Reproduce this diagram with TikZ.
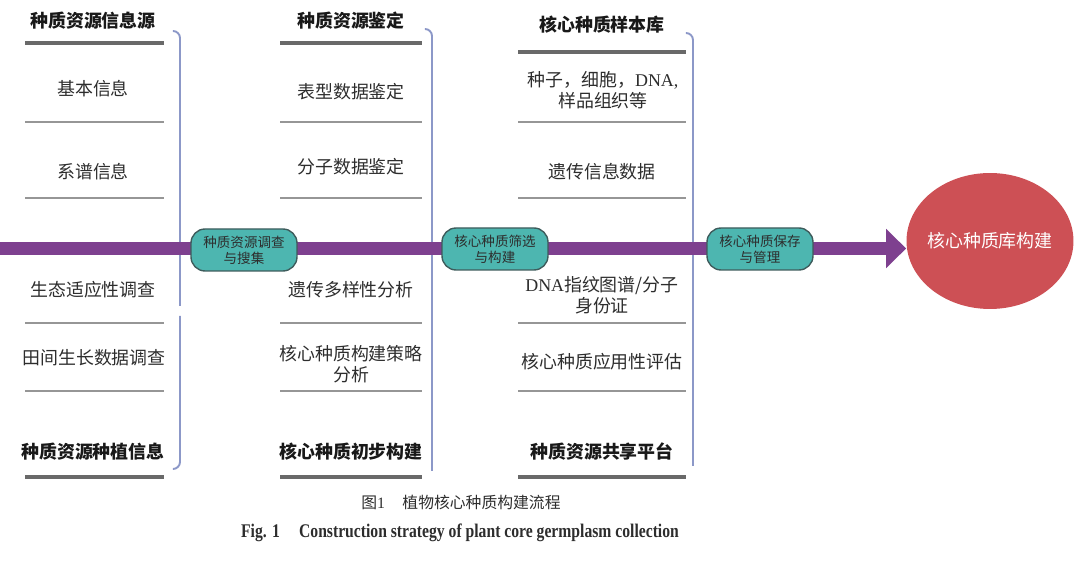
\documentclass[tikz,border=0pt]{standalone}
\usepackage{fontspec}
\setmainfont{Liberation Serif}
\newfontfamily\cjk{Noto Sans CJK SC}
\newfontfamily\capfont[FakeStretch=0.81]{Liberation Serif}
\usepackage{tikz}
\usetikzlibrary{positioning,arrows.meta,shapes.geometric,backgrounds}

\definecolor{spinepurple}{RGB}{126,64,143}
\definecolor{stageteal}{RGB}{77,182,176}
\definecolor{stageedge}{RGB}{62,92,92}
\definecolor{corered}{RGB}{205,80,85}
\definecolor{braceblue}{RGB}{140,152,200}
\definecolor{sepgray}{RGB}{150,150,150}
\definecolor{sepdark}{RGB}{105,105,105}
\definecolor{txtgray}{RGB}{45,45,45}

\begin{document}
\begin{tikzpicture}[
        x=0.02cm, y=-0.02cm,
        item/.style={
            align=center,
            inner sep=0pt,
            text=txtgray,
            font=\cjk\fontsize{10.2}{12.2}\selectfont
        },
        head/.style={
            item,
            text=black!90,
            font=\cjk\bfseries\fontsize{10.2}{12.2}\selectfont
        },
        stage/.style={
            rectangle,
            rounded corners=8pt,
            draw=stageedge,
            line width=0.8pt,
            fill=stageteal,
            align=center,
            inner sep=0pt,
            minimum width=2.12cm,
            minimum height=0.84cm,
            text=txtgray,
            font=\cjk\fontsize{7.7}{9}\selectfont
        },
        goal/.style={
            ellipse,
            fill=corered,
            inner xsep=-2.5pt,
            inner ysep=0pt,
            minimum width=3.34cm,
            minimum height=2.72cm,
            text=white,
            font=\cjk\fontsize{10.2}{12}\selectfont
        },
        sep/.style={draw=sepgray, line width=1.1pt},
        sepbold/.style={draw=sepdark, line width=2pt},
        brace/.style={draw=braceblue, line width=1.1pt, rounded corners=4pt},
        spine/.style={
            draw=spinepurple,
            line width=0.26cm,
            -{Triangle[length=0.4cm,width=0.76cm]}
        }
    ]
    \useasboundingbox (0,0) rectangle (1080,563);

    % Column 1
    \node[head] (h1) at (93,21) {种质资源信息源};
    \node[item] (a1) at (93,89) {基本信息};
    \node[item] (a2) at (93,172) {系谱信息};
    \node[item] (a3) at (93,290) {生态适应性调查};
    \node[item] (a4) at (94,358) {田间生长数据调查};
    \node[head] (f1) at (93,452) {种质资源种植信息};

    % Column 2
    \node[head] (h2) at (351,21) {种质资源鉴定};
    \node[item] (b1) at (351,92) {表型数据鉴定};
    \node[item] (b2) at (351,167) {分子数据鉴定};
    \node[item] (b3) at (351,290) {遗传多样性分析};
    \node[item] (b4) at (351,364) {核心种质构建策略\\分析};
    \node[head] (f2) at (351,452) {核心种质初步构建};

    % Column 3
    \node[head] (h3) at (602,25) {核心种质样本库};
    \node[item] (c1) at (603,90) {种子，细胞，{\rmfamily DNA,}\\样品组织等};
    \node[item] (c2) at (602,172) {遗传信息数据};
    \node[item] (c3) at (602,295) {{\rmfamily DNA}指纹图谱/分子\\身份证};
    \node[item] (c4) at (602,362) {核心种质应用性评估};
    \node[head] (f3) at (602,452) {种质资源共享平台};

    % separators
    \foreach \xa/\xb/\ytop in {25/164/43, 280/422/43, 518/686/52} {
        \draw[sepbold] (\xa,\ytop) -- (\xb,\ytop);
        \foreach \yy in {122,198,323,391}
            \draw[sep] (\xa,\yy) -- (\xb,\yy);
        \draw[sepbold] (\xa,477) -- (\xb,477);
    }

    % Stages and goal
    \node[stage] (s1) at (244,250) {种质资源调查\\与搜集};
    \node[stage] (s2) at (495,249) {核心种质筛选\\与构建};
    \node[stage] (s3) at (760,249) {核心种质保存\\与管理};
    \node[goal] (core) at (990,241) {核心种质库构建};

    \coordinate (start) at (0,248.5);

    \begin{scope}[on background layer]
        \draw[brace] (173,31) -| (180,306);
        \draw[brace] (180,316) |- (173,469);
        \draw[brace] (425,29) -| (432,471);
        \draw[brace] (687,33) -| (693,466);
        \draw[spine] (start) -- (start -| core.west);
    \end{scope}

    % Caption
    \node[font=\cjk\fontsize{9}{11}\selectfont, text=txtgray] (cap1) at (461,502)
        {图{\rmfamily 1}\hspace{1.1em}植物核心种质构建流程};
    \node[font=\capfont\bfseries\fontsize{11}{13}\selectfont, text=txtgray] (cap2) at (460,533)
        {Fig. 1\hspace{1em}Construction strategy of plant core germplasm collection};

\end{tikzpicture}
\end{document}
